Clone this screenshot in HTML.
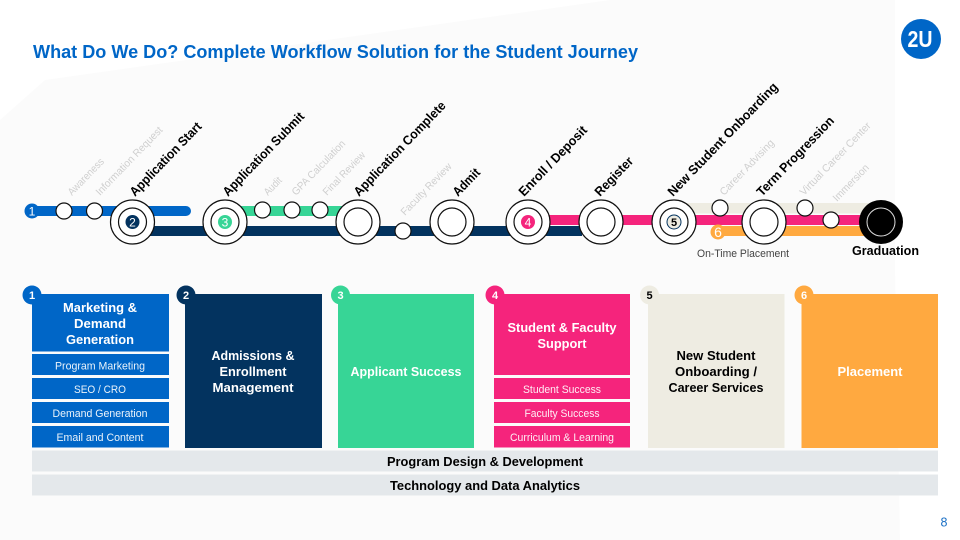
<!DOCTYPE html>
<html><head><meta charset="utf-8"><style>
html,body{margin:0;padding:0;background:#fff}
svg{display:block}
text{font-family:"Liberation Sans",sans-serif}
.b{font-weight:bold}
.w{fill:#fff}
.m{text-anchor:middle}
.g{fill:#cfcfcf;font-size:10.5px}
.k{fill:#000;font-weight:bold;font-size:13px}
.h{font-size:13px;font-weight:bold;text-anchor:middle}
.s{font-size:11px;fill:#fff;text-anchor:middle;opacity:.92}
.n{font-size:11px;font-weight:bold;text-anchor:middle}
.o{font-size:12px;text-anchor:middle;fill:#fff}
.L{fill:#fff;stroke:#111;stroke-width:1.2}
</style></head><body>
<svg width="960" height="540" viewBox="0 0 960 540" xmlns="http://www.w3.org/2000/svg">
<rect width="960" height="540" fill="#fff"/>
<polygon points="0,120 45,80 610,0 895,0 895,270 900,540 0,540" fill="#fbfbfb"/>

<text x="33" y="58" class="b" font-size="18" fill="#0066c7" textLength="605" lengthAdjust="spacingAndGlyphs">What Do We Do? Complete Workflow Solution for the Student Journey</text>
<circle cx="921" cy="39" r="20" fill="#0066c7"/>
<text x="920" y="47" class="b m w" font-size="23" textLength="25" lengthAdjust="spacingAndGlyphs">2U</text>

<!-- track lines -->
<line x1="32" y1="211" x2="186" y2="211" stroke="#0066c7" stroke-width="10" stroke-linecap="round"/>
<rect x="132" y="226" width="450" height="10" fill="#03335f"/>
<rect x="225" y="206" width="133" height="10" fill="#37d596"/>
<rect x="674" y="203" width="200" height="10.500" fill="#eeece2"/>
<rect x="718" y="226" width="155" height="10" fill="#ffa940"/>
<rect x="528" y="215" width="340" height="10" fill="#f5247c"/>

<!-- stations -->
<g class="L">
<circle cx="64" cy="211" r="8"/><circle cx="94.5" cy="211" r="8"/>
<circle cx="262.5" cy="210" r="8"/><circle cx="292" cy="210" r="8"/><circle cx="320" cy="210" r="8"/>
<circle cx="403" cy="231" r="8"/>
<circle cx="720" cy="208" r="8"/><circle cx="805" cy="208" r="8"/><circle cx="831" cy="220" r="8"/>
<circle cx="132.5" cy="222" r="22"/><circle cx="132.5" cy="222" r="14"/>
<circle cx="225" cy="222" r="22"/><circle cx="225" cy="222" r="14"/>
<circle cx="358" cy="222" r="22"/><circle cx="358" cy="222" r="14"/>
<circle cx="452" cy="222" r="22"/><circle cx="452" cy="222" r="14"/>
<circle cx="528" cy="222" r="22"/><circle cx="528" cy="222" r="14"/>
<circle cx="601" cy="222" r="22"/><circle cx="601" cy="222" r="14"/>
<circle cx="674" cy="222" r="22"/><circle cx="674" cy="222" r="14"/>
<circle cx="764" cy="222" r="22"/><circle cx="764" cy="222" r="14"/>
</g>
<circle cx="881" cy="222" r="22" fill="#000"/>
<circle cx="881" cy="222" r="14" fill="#000" stroke="#ddd" stroke-width="1"/>

<circle cx="32" cy="211" r="7.5" fill="#0066c7"/><text x="32" y="215.500" class="o">1</text>
<circle cx="132.5" cy="222" r="7" fill="#03335f"/><text x="132.5" y="226.500" class="o">2</text>
<circle cx="225" cy="222" r="7" fill="#37d596"/><text x="225" y="226.500" class="o">3</text>
<circle cx="528" cy="222" r="7" fill="#f5247c"/><text x="528" y="226.500" class="o">4</text>
<circle cx="674" cy="222" r="7" fill="#eeece2" stroke="#03335f" stroke-width="1"/><text x="674" y="226" class="n" font-size="12">5</text>
<circle cx="718" cy="232" r="7.5" fill="#ffa940"/><text x="718" y="237" class="o" style="font-size:14px">6</text>

<!-- rotated labels -->
<g class="g">
<text transform="translate(72,196) rotate(-46)" textLength="47" lengthAdjust="spacingAndGlyphs">Awareness</text>
<text transform="translate(100,196) rotate(-46)" textLength="91" lengthAdjust="spacingAndGlyphs">Information Request</text>
<text transform="translate(268,196) rotate(-46)" textLength="21" lengthAdjust="spacingAndGlyphs">Audit</text>
<text transform="translate(296,196) rotate(-46)" textLength="72" lengthAdjust="spacingAndGlyphs">GPA Calculation</text>
<text transform="translate(327,196) rotate(-46)" textLength="56" lengthAdjust="spacingAndGlyphs">Final Review</text>
<text transform="translate(405,216) rotate(-46)" textLength="68" lengthAdjust="spacingAndGlyphs">Faculty Review</text>
<text transform="translate(724,196) rotate(-46)" textLength="73" lengthAdjust="spacingAndGlyphs">Career Advising</text>
<text transform="translate(804,196) rotate(-46)" textLength="97" lengthAdjust="spacingAndGlyphs">Virtual Career Center</text>
<text transform="translate(837,202) rotate(-46)" textLength="47" lengthAdjust="spacingAndGlyphs">Immersion</text>
</g>
<g class="k">
<text transform="translate(135,197) rotate(-46)" textLength="97" lengthAdjust="spacingAndGlyphs">Application Start</text>
<text transform="translate(228,197) rotate(-46)" textLength="111" lengthAdjust="spacingAndGlyphs">Application Submit</text>
<text transform="translate(359,197) rotate(-46)" textLength="126" lengthAdjust="spacingAndGlyphs">Application Complete</text>
<text transform="translate(458,197) rotate(-46)" textLength="33" lengthAdjust="spacingAndGlyphs">Admit</text>
<text transform="translate(524,197) rotate(-46)" textLength="92" lengthAdjust="spacingAndGlyphs">Enroll / Deposit</text>
<text transform="translate(600,197) rotate(-46)" textLength="49" lengthAdjust="spacingAndGlyphs">Register</text>
<text transform="translate(673,197) rotate(-46)" textLength="152" lengthAdjust="spacingAndGlyphs">New Student Onboarding</text>
<text transform="translate(762,197) rotate(-46)" textLength="105" lengthAdjust="spacingAndGlyphs">Term Progression</text>
</g>
<text x="697" y="257" font-size="11" fill="#444" textLength="92" lengthAdjust="spacingAndGlyphs">On-Time Placement</text>
<text x="852" y="255" class="b" font-size="13" fill="#000" textLength="67" lengthAdjust="spacingAndGlyphs">Graduation</text>

<!-- columns -->
<g fill="#0066c7">
<rect x="32" y="294" width="137" height="57.500"/>
<rect x="32" y="354" width="137" height="21"/>
<rect x="32" y="378" width="137" height="21"/>
<rect x="32" y="402" width="137" height="21"/>
<rect x="32" y="426" width="137" height="21.500"/>
</g>
<rect x="185" y="294" width="137" height="154" fill="#03335f"/>
<rect x="338" y="294" width="136" height="154" fill="#37d596"/>
<g fill="#f5247c">
<rect x="494" y="294" width="136" height="81"/>
<rect x="494" y="378" width="136" height="21"/>
<rect x="494" y="402" width="136" height="21"/>
<rect x="494" y="426" width="136" height="21.500"/>
</g>
<rect x="648" y="294" width="136.500" height="154" fill="#eeece2"/>
<rect x="801.500" y="294" width="136.500" height="154" fill="#ffa940"/>
<rect x="32" y="450.500" width="906" height="21" fill="#e4e8eb"/>
<rect x="32" y="474.500" width="906" height="21" fill="#e4e8eb"/>

<!-- badges -->
<circle cx="32" cy="295" r="9.500" fill="#0066c7"/><text x="32" y="299" class="n w">1</text>
<circle cx="186" cy="295" r="9.500" fill="#03335f"/><text x="186" y="299" class="n w">2</text>
<circle cx="340.500" cy="295" r="9.500" fill="#37d596"/><text x="340.500" y="299" class="n w">3</text>
<circle cx="495" cy="295" r="9.500" fill="#f5247c"/><text x="495" y="299" class="n w">4</text>
<circle cx="649.500" cy="295" r="9.500" fill="#eeece2"/><text x="649.500" y="299" class="n">5</text>
<circle cx="804" cy="295" r="9.500" fill="#ffa940"/><text x="804" y="299" class="n w">6</text>

<!-- headings -->
<g class="h w">
<text x="100" y="312" textLength="74" lengthAdjust="spacingAndGlyphs">Marketing &amp;</text>
<text x="100" y="328" textLength="52" lengthAdjust="spacingAndGlyphs">Demand</text>
<text x="100" y="344" textLength="68" lengthAdjust="spacingAndGlyphs">Generation</text>
<text x="253" y="360" textLength="83" lengthAdjust="spacingAndGlyphs">Admissions &amp;</text>
<text x="253" y="376" textLength="67" lengthAdjust="spacingAndGlyphs">Enrollment</text>
<text x="253" y="392" textLength="81" lengthAdjust="spacingAndGlyphs">Management</text>
<text x="406" y="376" textLength="111" lengthAdjust="spacingAndGlyphs">Applicant Success</text>
<text x="562" y="332" textLength="109" lengthAdjust="spacingAndGlyphs">Student &amp; Faculty</text>
<text x="562" y="348" textLength="49" lengthAdjust="spacingAndGlyphs">Support</text>
<text x="870" y="376" textLength="65" lengthAdjust="spacingAndGlyphs">Placement</text>
</g>
<g class="h">
<text x="716" y="360" textLength="79" lengthAdjust="spacingAndGlyphs">New Student</text>
<text x="716" y="376" textLength="82" lengthAdjust="spacingAndGlyphs">Onboarding /</text>
<text x="716" y="392" textLength="95" lengthAdjust="spacingAndGlyphs">Career Services</text>
<text x="485" y="466" textLength="196" lengthAdjust="spacingAndGlyphs">Program Design &amp; Development</text>
<text x="485" y="490" textLength="190" lengthAdjust="spacingAndGlyphs">Technology and Data Analytics</text>
</g>
<g class="s">
<text x="100" y="369.500" textLength="90" lengthAdjust="spacingAndGlyphs">Program Marketing</text>
<text x="100" y="393" textLength="52" lengthAdjust="spacingAndGlyphs">SEO / CRO</text>
<text x="100" y="417" textLength="95" lengthAdjust="spacingAndGlyphs">Demand Generation</text>
<text x="100" y="441" textLength="87" lengthAdjust="spacingAndGlyphs">Email and Content</text>
<text x="562" y="393" textLength="78" lengthAdjust="spacingAndGlyphs">Student Success</text>
<text x="562" y="417" textLength="75" lengthAdjust="spacingAndGlyphs">Faculty Success</text>
<text x="562" y="441" textLength="104" lengthAdjust="spacingAndGlyphs">Curriculum &amp; Learning</text>
</g>
<text x="944" y="526.500" class="m" font-size="12.500" fill="#1a6fc4">8</text>
</svg>
</body></html>
